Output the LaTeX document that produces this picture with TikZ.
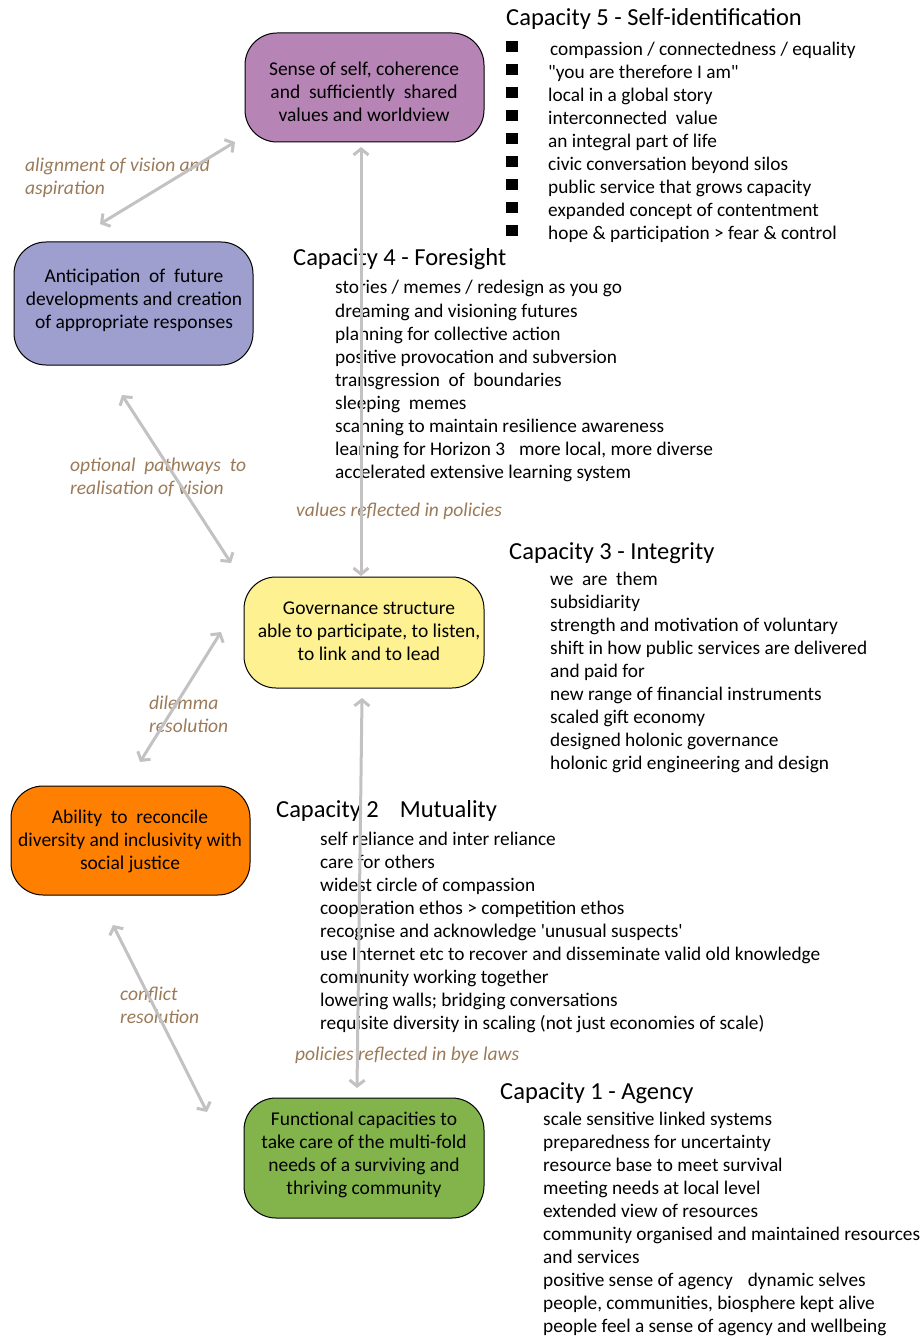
\documentclass[tikz,border=0pt]{standalone}
\usepackage{fontspec}
\setmainfont{Carlito}[Ligatures=TeXOff]
\usetikzlibrary{arrows.meta}
\definecolor{selfc}{HTML}{B784B6}
\definecolor{antc}{HTML}{9E9FCE}
\definecolor{govc}{HTML}{FEF192}
\definecolor{recc}{HTML}{FF8000}
\definecolor{func}{HTML}{82B44B}
\definecolor{linkc}{HTML}{C3C1C1}
\definecolor{notec}{HTML}{9A7A58}
\tikzset{
  box/.style={draw=black, line width=1pt, rounded corners=32pt, inner sep=0pt},
  boxtext/.style={align=center, font=\fontsize{19.5}{23}\selectfont, inner sep=0pt},
  link/.style={draw=linkc, line width=3pt, {Straight Barb[length=6pt,width=15pt,line width=3pt]}-{Straight Barb[length=6pt,width=15pt,line width=3pt]}},
  note/.style={text=notec, font=\fontsize{19.5}{23}\selectfont\itshape, align=left, anchor=base west, inner sep=0pt},
  heading/.style={font=\fontsize{24.5}{28}\selectfont, anchor=base west, inner sep=0pt},
  item/.style={font=\fontsize{19.3}{23}\selectfont, anchor=base west, inner sep=0pt},
  bullet/.style={fill=black, minimum width=12pt, minimum height=11pt, inner sep=0pt}
}
\begin{document}
\begin{tikzpicture}[x=1pt,y=-1pt]
\useasboundingbox (0,0) rectangle (920,1337);

% capacity boxes
\node[box, fill=selfc, minimum width=239pt, minimum height=109pt] (self) at (364.5,87.5) {};
\node[boxtext] (selft) at (364,92) {Sense of self, coherence\\and\ \ sufficiently\ \ shared\\values and worldview};

\node[box, fill=antc, minimum width=239pt, minimum height=123pt] (antic) at (133.5,303.5) {};
\node[boxtext] (antict) at (134,300) {Anticipation\ \ of\ \ future\\developments and creation\\of appropriate responses};

\node[box, fill=govc, minimum width=240pt, minimum height=111pt] (gov) at (364,632.5) {};
\node[boxtext] (govt) at (369,631) {Governance structure\\able to participate, to listen,\\to link and to lead};

\node[box, fill=recc, minimum width=239pt, minimum height=109pt] (recon) at (130.5,840.5) {};
\node[boxtext] (recont) at (130,841) {Ability\ \ to\ \ reconcile\\diversity and inclusivity with\\social justice};

\node[box, fill=func, minimum width=240pt, minimum height=120pt] (funcb) at (364,1158) {};
\node[boxtext] (funct) at (364,1155) {Functional capacities to\\take care of the multi-fold\\needs of a surviving and\\thriving community};

% capacity 5
\node[heading] (h5) at (506,26) {Capacity 5 - Self-identification};
\foreach \t [count=\i] in {{\hspace{2pt}compassion / connectedness / equality},{"you are therefore I am"},{local in a global story},{interconnected\ \ value},{an integral part of life},{civic conversation beyond silos},{public service that grows capacity},{expanded concept of contentment},{hope \& participation > fear \& control}}{
  \node[bullet, name=b5-\i] at (512,{47+23*(\i-1)}) {};
  \node[item, name=c5-\i] at (548,{56+23*(\i-1)}) {\t};
}

% capacity 4
\node[heading] (h4) at (293,266) {Capacity 4 - Foresight};
\foreach \t [count=\i] in {{stories / memes / redesign as you go},{dreaming and visioning futures},{planning for collective action},{positive provocation and subversion},{transgression\ \ of\ \ boundaries},{sleeping\ \ memes},{scanning to maintain resilience awareness},{learning for Horizon 3\hspace{14pt}more local, more diverse},{accelerated extensive learning system}}{
  \node[item, name=c4-\i] at (335,{294+23*(\i-1)}) {\t};
}

% capacity 3
\node[heading] (h3) at (509,559) {Capacity 3 - Integrity};
\foreach \t [count=\i] in {{we\ \ are\ \ them},{subsidiarity},{strength and motivation of voluntary},{shift in how public services are delivered},{and paid for},{new range of financial instruments},{scaled gift economy},{designed holonic governance},{holonic grid engineering and design}}{
  \node[item, name=c3-\i] at (550,{585+23*(\i-1)}) {\t};
}

% capacity 2
\node[heading] (h2) at (276,817) {Capacity 2\hspace{21pt}Mutuality};
\foreach \t [count=\i] in {{self reliance and inter reliance},{care for others},{widest circle of compassion},{cooperation ethos > competition ethos},{recognise and acknowledge 'unusual suspects'},{use Internet etc to recover and disseminate valid old knowledge},{community working together},{lowering walls; bridging conversations},{requisite diversity in scaling (not just economies of scale)}}{
  \node[item, name=c2-\i] at (320,{845+23*(\i-1)}) {\t};
}

% capacity 1
\node[heading] (h1) at (500,1099) {Capacity 1 - Agency};
\foreach \t [count=\i] in {{scale sensitive linked systems},{preparedness for uncertainty},{resource base to meet survival},{meeting needs at local level},{extended view of resources},{community organised and maintained resources},{and services},{positive sense of agency\hspace{15pt}dynamic selves},{people, communities, biosphere kept alive},{people feel a sense of agency and wellbeing}}{
  \node[item, name=c1-\i] at (543,{1125+23*(\i-1)}) {\t};
}

% relation labels (anchored at the baseline of their last line)
\node[note] (n1) at (25,195) {alignment of vision and\\aspiration};
\node[note] (n2) at (70,494) {optional\ \ pathways\ \ to\\realisation of vision};
\node[note] (n3) at (296,516) {values reflected in policies};
\node[note] (n4) at (149,732) {dilemma\\resolution};
\node[note] (n5) at (120,1023) {conflict\\resolution};
\node[note] (n6) at (295,1060) {policies reflected in bye laws};

% connector end points
\coordinate (a1s) at (235,142);  \coordinate (a1e) at (100,224);
\coordinate (a2s) at (361,147);  \coordinate (a2e) at (361,576);
\coordinate (a3s) at (122,395);  \coordinate (a3e) at (231,563);
\coordinate (a4s) at (221,632);  \coordinate (a4e) at (140,762);
\coordinate (a5s) at (362,698);  \coordinate (a5e) at (357,1088);
\coordinate (a6s) at (113,925);  \coordinate (a6e) at (207,1112);

% connectors
\draw[link] (a1s) -- (a1e);
\draw[link] (a2s) -- (a2e);
\draw[link] (a3s) -- (a3e);
\draw[link] (a4s) -- (a4e);
\draw[link] (a5s) -- (a5e);
\draw[link] (a6s) -- (a6e);
\end{tikzpicture}
\end{document}
